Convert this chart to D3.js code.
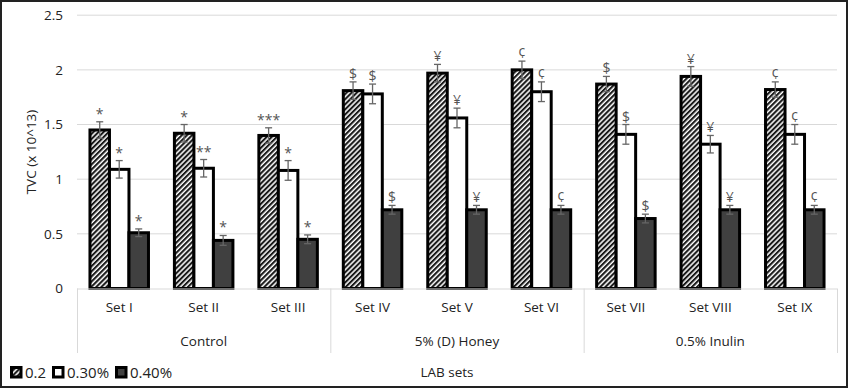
<!DOCTYPE html>
<html>
<head>
<meta charset="utf-8">
<script src="https://cdn.jsdelivr.net/npm/d3@7"></script>
<style>
  body { margin: 0; background: #fff; }
  text { font-family: "Open Sans", "Noto Sans", sans-serif; }
</style>
</head>
<body>
<div id="chart"></div>
<script>
    // data
    let sets = ["Set I","Set II","Set III","Set IV","Set V","Set VI","Set VII","Set VIII","Set IX"];
    let groups = ["Control","5% (D) Honey","0.5% Inulin"];
    let series = ["0.2","0.30%","0.40%"];
    let val02  = [1.45,1.42,1.40,1.81,1.97,2.00,1.87,1.94,1.82];
    let val030 = [1.09,1.10,1.08,1.78,1.56,1.80,1.41,1.32,1.41];
    let val040 = [0.51,0.44,0.45,0.72,0.72,0.72,0.64,0.72,0.72];
    let err02  = [0.075,0.08,0.07,0.08,0.08,0.08,0.07,0.09,0.07];
    let err030 = [0.08,0.08,0.09,0.09,0.09,0.09,0.09,0.08,0.09];
    let err040 = [0.035,0.045,0.04,0.04,0.04,0.04,0.04,0.04,0.04];
    let sig02  = ["*","*","***","$","¥","¢","$","¥","¢"];
    let sig030 = ["*","**","*","$","¥","¢","$","¥","¢"];
    let sig040 = ["*","*","*","$","¥","¢","$","¥","¢"];
    let yTicks = [0,0.5,1,1.5,2,2.5];

    let width = 848, height = 388;
    let plotL = 77, plotR = 837, plotT = 15.2, plotB = 288.5;
    let fs = 13.5;

    let svg = d3.select("#chart").append("svg")
        .attr("width", width)
        .attr("height", height);

    // hatch pattern
    let defs = svg.append("defs");
    let pat = defs.append("pattern")
        .attr("id","hatch")
        .attr("patternUnits","userSpaceOnUse")
        .attr("width",3.6).attr("height",3.6)
        .attr("patternTransform","rotate(45)");
    pat.append("rect").attr("width",3.6).attr("height",3.6).attr("fill","#fff");
    pat.append("rect").attr("width",2.1).attr("height",3.6).attr("fill","#1a1a1a");

    // outer frame
    svg.append("rect")
        .attr("x",1).attr("y",1).attr("width",width-2).attr("height",height-2)
        .attr("fill","none").attr("stroke","#222").attr("stroke-width",2);

    let x = d3.scaleBand().domain(sets).range([plotL,plotR]);
    let barW = 19.5;
    let xs = d3.scaleBand().domain(series).range([-barW*1.5, barW*1.5]);
    let y = d3.scaleLinear().domain([0,2.5]).range([plotB, plotT]);

    // gridlines
    svg.append("g").selectAll("line")
        .data(yTicks.slice(1))
        .join("line")
            .attr("x1",plotL).attr("x2",plotR)
            .attr("y1",d=>y(d)).attr("y2",d=>y(d))
            .attr("stroke","#d9d9d9").attr("stroke-width",1);

    // y axis labels
    let yAxis = d3.axisLeft(y).tickValues(yTicks).tickSize(0).tickPadding(14)
        .tickFormat(d => d3.format("")(d));
    let gy = svg.append("g").attr("transform","translate(" + plotL + ",0)").call(yAxis);
    gy.select(".domain").remove();
    gy.selectAll("text").attr("font-size",fs).attr("fill","#222")
        .style("font-family","'Open Sans', sans-serif");

    svg.append("text")
        .attr("transform","translate(36,152) rotate(-90)")
        .attr("text-anchor","middle")
        .attr("font-size",fs).attr("fill","#222")
        .text("TVC (x 10^13)");

    let rows = sets.map((s,i) => [
        {set:s, ser:series[0], v:val02[i],  e:err02[i],  sig:sig02[i]},
        {set:s, ser:series[1], v:val030[i], e:err030[i], sig:sig030[i]},
        {set:s, ser:series[2], v:val040[i], e:err040[i], sig:sig040[i]}
    ]).flat();
    let fills = {"0.2":"url(#hatch)","0.30%":"#fff","0.40%":"#404040"};
    let cx = d => x(d.set) + x.bandwidth()/2 + xs(d.ser);

    // bars
    svg.append("g").selectAll("rect")
        .data(rows)
        .join("rect")
            .attr("x", d => cx(d))
            .attr("y", d => y(d.v))
            .attr("width", barW)
            .attr("height", d => plotB - y(d.v))
            .attr("fill", d => fills[d.ser])
            .attr("stroke","#000")
            .attr("stroke-width",3);

    // error bars
    let eb = svg.append("g").attr("stroke","#666").attr("stroke-width",1.3);
    rows.forEach(d => {
        let mx = cx(d) + barW/2;
        eb.append("line").attr("x1",mx).attr("x2",mx).attr("y1",y(d.v+d.e)).attr("y2",y(d.v-d.e));
        eb.append("line").attr("x1",mx-3.5).attr("x2",mx+3.5).attr("y1",y(d.v+d.e)).attr("y2",y(d.v+d.e));
        eb.append("line").attr("x1",mx-3.5).attr("x2",mx+3.5).attr("y1",y(d.v-d.e)).attr("y2",y(d.v-d.e));
    });

    // significance marks
    svg.append("g").selectAll("text")
        .data(rows)
        .join("text")
            .attr("x", d => cx(d) + barW/2)
            .attr("y", d => y(d.v+d.e) - 3)
            .attr("text-anchor","middle")
            .attr("font-size",14)
            .attr("fill","#555")
            .text(d => d.sig);

    // category axis
    svg.append("line")
        .attr("x1",plotL).attr("x2",plotR).attr("y1",plotB+0.5).attr("y2",plotB+0.5)
        .attr("stroke","#d9d9d9");
    let xAxis = d3.axisBottom(x).tickSize(0).tickPadding(14);
    let gx = svg.append("g").attr("transform","translate(0," + plotB + ")").call(xAxis);
    gx.select(".domain").remove();
    gx.selectAll("text").attr("font-size",fs).attr("fill","#222")
        .style("font-family","'Open Sans', sans-serif");

    let gw = (plotR-plotL)/groups.length;
    svg.append("g").selectAll("line")
        .data(d3.range(groups.length+1))
        .join("line")
            .attr("x1",i=>plotL+gw*i+0.5).attr("x2",i=>plotL+gw*i+0.5)
            .attr("y1",plotB).attr("y2",353)
            .attr("stroke","#d9d9d9");
    svg.append("g").selectAll("text")
        .data(groups)
        .join("text")
            .attr("x",(d,i)=>plotL+gw*(i+0.5))
            .attr("y",346)
            .attr("text-anchor","middle")
            .attr("font-size",fs).attr("fill","#222")
            .text(d=>d);

    svg.append("text")
        .attr("x",447).attr("y",377)
        .attr("text-anchor","middle")
        .attr("font-size",fs).attr("fill","#222")
        .text("LAB sets");

    // legend
    let legX = [10, 52, 115];
    let lg = svg.append("g");
    series.forEach((s,i) => {
        lg.append("rect")
            .attr("x",legX[i]+1.5).attr("y",367.5).attr("width",9.5).attr("height",9.5)
            .attr("fill",fills[s]).attr("stroke","#000").attr("stroke-width",3);
        lg.append("text")
            .attr("x",legX[i]+15).attr("y",378)
            .attr("font-size",15).attr("fill","#222")
            .text(s);
    });
</script>
</body>
</html>
